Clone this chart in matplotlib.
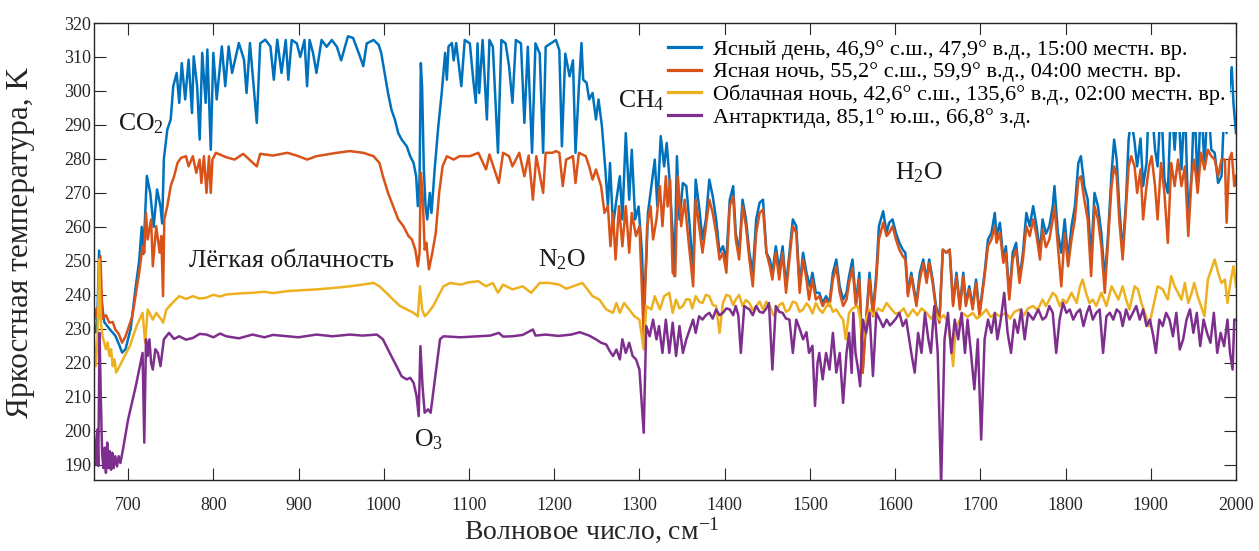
import matplotlib
matplotlib.use('Agg')
import matplotlib.pyplot as plt

plt.rcParams['font.family'] = ['Liberation Serif', 'DejaVu Serif']
plt.rcParams['mathtext.fontset'] = 'custom'
plt.rcParams['mathtext.rm'] = 'Liberation Serif'
plt.rcParams['mathtext.it'] = 'Liberation Serif:italic'

# (wavenumber cm-1, brightness temperature K)
clear_day = [
    (658, 231), (662, 229), (664, 234), (666, 253), (668, 240), (672, 232), (678, 230), (685, 228),
    (690, 225), (693, 223), (697, 224), (703, 230), (709, 242.5), (713, 250), (716, 260), (718, 252),
    (722, 275), (726, 270), (730, 260), (734, 271), (738, 266), (740, 261), (742, 280), (746, 288.6),
    (750, 291.6), (753, 301.4), (757, 305.3), (760, 296.5), (763, 308.2), (767, 297.5), (771, 309.2),
    (775, 293.5), (777, 310.2), (781, 301.4), (784, 285.7), (787, 311.2), (791, 296.5), (793, 312.2),
    (797, 282.7), (800, 311.2), (804, 297.5), (810, 313.1), (814, 301.4), (818, 313.1), (822, 305.3),
    (830, 314.1), (836, 309.2), (839, 299.4), (843, 314.1), (851, 290.6), (855, 314), (861, 315.1),
    (867, 313.1), (871, 303.3), (875, 315.1), (880, 305.3), (885, 315), (888, 303.3), (892, 315),
    (898, 314), (902, 310), (907, 315), (910, 301.4), (913, 315), (917, 311.2), (921, 305.3),
    (927, 315), (933, 313), (939, 315), (945, 313), (950, 309), (958, 316.1), (964, 315.6),
    (972, 310.2), (976, 307.3), (980, 314), (988, 315), (994, 313.6), (997, 311.2), (1001, 305.3),
    (1005, 299.4), (1009, 294.5), (1013, 291.6), (1017, 287.6), (1021, 285.7), (1027, 283.7),
    (1031, 280.8), (1035, 278.8), (1038, 274.9), (1040, 266.1), (1042, 274), (1043.5, 308.2),
    (1045, 301), (1047, 276.9), (1049, 266.1), (1051, 262.2), (1054, 270), (1056, 264.1),
    (1060, 277.8), (1064, 289.6), (1068, 299.4), (1072, 311.2), (1074, 303.3), (1076, 313.1),
    (1080, 314.1), (1082, 309), (1085, 314.1), (1091, 301.4), (1095, 315), (1101, 314),
    (1105, 303.3), (1108, 296.5), (1110, 314), (1112, 299.4), (1116, 315), (1121, 291.6),
    (1124, 315), (1128, 313), (1134, 281.8), (1138, 315), (1143, 314), (1147, 307.3), (1151, 296.5),
    (1155, 315), (1161, 314), (1165, 290.6), (1169, 313), (1174, 281.8), (1178, 314), (1183, 311),
    (1187, 281.8), (1190, 313), (1196, 314), (1202, 315), (1206, 312), (1209, 283.7), (1213, 311),
    (1218, 304.3), (1222, 309), (1225, 281.8), (1229, 301.4), (1232, 314.1), (1234, 303.3),
    (1238, 302.4), (1241, 297.5), (1245, 299.4), (1249, 291.6), (1252, 297.5), (1256, 289.6),
    (1260, 276.9), (1263, 266.1), (1265.5, 278.8), (1269, 260.2), (1273, 268), (1277, 274.9),
    (1280, 262.2), (1284, 287.6), (1288, 268), (1291, 282.7), (1295, 262.2), (1299, 266),
    (1303, 252.4), (1305, 236), (1308, 250), (1310, 264.1), (1314, 272), (1318, 279.8), (1321, 266),
    (1325, 286.7), (1329, 277.8), (1332, 284.7), (1335, 274.9), (1339, 258.2), (1341, 245.5),
    (1344, 280.8), (1347, 262.2), (1351, 272.9), (1355, 272), (1359, 260.2), (1363, 246.5),
    (1366, 273.9), (1370, 266), (1374, 256.3), (1378, 262.2), (1382, 273.9), (1386, 269),
    (1390, 262.2), (1394, 252.4), (1398, 254.3), (1402, 250.4), (1406, 268), (1410, 272),
    (1413, 258.2), (1417, 252.4), (1421, 268), (1425, 262.2), (1429, 252.4), (1433, 246.5),
    (1437, 262.2), (1441, 267.1), (1445, 268), (1449, 252.4), (1453, 250.4), (1456, 246.5),
    (1460, 254.3), (1464, 247.5), (1468, 254.3), (1472, 242.5), (1480, 262.2), (1484, 260.2),
    (1488, 242.5), (1492, 252.4), (1496, 246.5), (1500, 242.5), (1503, 246.5), (1507, 240.6),
    (1511, 240.6), (1515, 237.6), (1519, 239.6), (1523, 237.6), (1527, 246.5), (1531, 250.4),
    (1535, 242.5), (1539, 238.6), (1543, 240.6), (1546, 245.5), (1550, 250.4), (1554, 237.6),
    (1558, 246.5), (1562, 218), (1566, 232.7), (1570, 246.5), (1574, 234.7), (1578, 246.5),
    (1581, 260.2), (1586, 264.6), (1590, 258.2), (1593, 261.2), (1597, 262.2), (1601, 258.2),
    (1605, 255.3), (1609, 253.3), (1612, 252.4), (1615, 240.6), (1619, 246.5), (1625, 237.6),
    (1629, 246.5), (1633, 250.4), (1637, 244.5), (1640, 250.4), (1644, 244.5), (1648, 236.7),
    (1652, 232.7), (1656, 253.3), (1660, 252.4), (1664, 253.3), (1668, 237.6), (1672, 246.5),
    (1676, 236.7), (1680, 246.5), (1683, 237.6), (1687, 242.5), (1691, 236.7), (1695, 244.5),
    (1699, 234.7), (1705, 246.5), (1709, 256.3), (1713, 258.2), (1717, 264.1), (1719, 257.3),
    (1723, 261.2), (1727, 250.4), (1730, 254.3), (1734, 239.6), (1738, 252.4), (1742, 255.3),
    (1746, 244.5), (1750, 252.4), (1754, 264.1), (1758, 260.2), (1762, 266.1), (1766, 260.2),
    (1770, 252.4), (1773, 262.2), (1777, 258), (1781, 260.2), (1785, 266.1), (1787, 272),
    (1791, 258.2), (1795, 252.4), (1799, 262.2), (1803, 250.4), (1807, 260.2), (1811, 266.1),
    (1815, 278.8), (1818, 280.8), (1822, 272), (1826, 268), (1830, 250.4), (1834, 270),
    (1838, 266.1), (1842, 258.2), (1846, 244.5), (1850, 258.2), (1854, 275.9), (1857, 285.7),
    (1860, 279.8), (1863, 266.1), (1867, 252.4), (1871, 268), (1874, 285.7), (1877, 292),
    (1881, 285), (1884, 277.8), (1888, 286), (1891, 272), (1895, 278.8), (1898, 298), (1901, 296),
    (1905, 282.7), (1908, 277.8), (1912, 298), (1916, 273.9), (1920, 270), (1924, 298),
    (1928, 282.7), (1932, 298), (1936, 276.9), (1940, 298), (1944, 262.2), (1948, 275.9),
    (1951, 298), (1955, 272), (1959, 298), (1963, 277.8), (1967, 298), (1971, 282.7),
    (1975, 281.8), (1979, 272.9), (1983, 274.9), (1987, 300), (1989, 287.6), (1992, 300),
    (1995, 307), (1997, 296.5), (2000, 287.6),
]

clear_night = [
    (658, 234.7), (661, 233), (663, 236), (665, 233), (667.5, 251.4), (670, 233), (674, 234),
    (678, 231.8), (682, 232), (685, 229.8), (689, 228.5), (693, 225.9), (697, 227.8), (705, 233.7),
    (713, 246.5), (717, 254.3), (719, 252.4),
    (721, 264.1), (723, 256.3), (727, 262.2), (729, 248.4), (733, 260.2), (737, 252.4), (739, 257.3),
    (741, 239.6), (742.5, 262.2), (746, 266.1), (750, 272), (754, 274.9), (758, 278.8), (762, 280.3),
    (768, 280.8), (771, 277.8), (776, 280.8), (780, 275.9), (784, 279.8), (786, 272.9), (789, 280.8),
    (792, 270), (795, 280.8), (797, 270), (799, 279.8), (803, 281.8), (815, 280.5), (825, 279.8),
    (835, 281.5), (851, 277.8), (855, 281.5), (870, 281), (887, 281.8), (900, 280.8), (910, 279.8),
    (921, 280.8), (945, 281.8), (960, 282.3), (976, 281.8), (988, 280.8), (995, 278.8), (999, 274.9),
    (1005, 270), (1011, 266.1), (1017, 262.2), (1023, 260.2), (1029, 257.3), (1033, 256.3),
    (1037, 253.3), (1040, 248.4), (1042, 252.4), (1043.5, 275.9), (1045.5, 270), (1048, 253.3),
    (1050, 255.3), (1053, 247.5), (1057, 252.4), (1061, 258.2), (1065, 270), (1069, 277.8),
    (1074, 280.8), (1082, 279.8), (1089, 280.8), (1101, 280.8), (1111, 281.8), (1120, 276.9),
    (1124, 281.3), (1135, 272.9), (1140, 281.8), (1147, 280.8), (1151, 277.8), (1159, 281.8),
    (1165, 274.9), (1170, 281), (1175, 268), (1179, 280.8), (1187, 270), (1190, 281.8), (1198, 281.8),
    (1202, 282.3), (1206, 281.8), (1210, 272), (1214, 279.8), (1222, 280.8), (1225, 272.9),
    (1229, 281.8), (1237, 280.8), (1241, 277.8), (1245, 273.9), (1249, 276.9), (1255, 272),
    (1259, 264.1), (1263, 266.1), (1266, 254.3), (1269, 264.1), (1272, 250.4), (1276, 266.1),
    (1280, 254.3), (1284, 266.1), (1288, 252.4), (1291, 264.1), (1296, 257.3), (1300, 260.2),
    (1305, 228), (1309, 260.2), (1313, 266.1), (1316, 256.3), (1320, 262.2), (1324, 272),
    (1327, 260.2), (1331, 274.9), (1333, 266), (1336, 273.9), (1339, 246.5), (1342, 245.5),
    (1345, 274.9), (1349, 260.2), (1353, 268), (1357, 257.3), (1363, 242.5), (1366, 268),
    (1370, 260.2), (1374, 252.4), (1378, 260.2), (1382, 268), (1386, 264.1), (1390, 258.2),
    (1394, 250.4), (1398, 252.4), (1402, 246.5), (1406, 266.1), (1410, 269), (1413, 256.3),
    (1417, 250.4), (1421, 266.1), (1425, 260.2), (1429, 250.4), (1433, 242.5), (1437, 258.2),
    (1441, 264.1), (1445, 265.1), (1449, 252.4), (1453, 248.4), (1456, 244.5), (1460, 252.4),
    (1464, 244.5), (1468, 252.4), (1472, 240.6), (1480, 260.2), (1484, 258.2), (1488, 240.6),
    (1492, 250.4), (1496, 244.5), (1499, 238.6), (1503, 244.5), (1507, 238.6), (1511, 239.6),
    (1515, 236.7), (1519, 238.6), (1523, 236.7), (1527, 244.5), (1531, 248.4), (1535, 240.6),
    (1539, 236.7), (1543, 238.6), (1546, 243.5), (1550, 248), (1554, 236.7), (1558, 244.5),
    (1562, 217), (1566, 232.7), (1570, 244.5), (1574, 233.7), (1578, 244.5), (1581, 256.3),
    (1586, 261.2), (1590, 257.3), (1593, 258.2), (1597, 260.2), (1601, 256.3), (1605, 253.3),
    (1609, 251.4), (1612, 250.4), (1615, 239.6), (1619, 245.5), (1625, 236.7), (1629, 244.5),
    (1633, 249.4), (1637, 243.5), (1640, 249.4), (1644, 243.5), (1648, 235.7), (1652, 231.8),
    (1656, 253.3), (1660, 252.4), (1664, 253.3), (1668, 236.7), (1672, 245.5), (1676, 235.7),
    (1680, 245.5), (1683, 236.7), (1687, 241.6), (1691, 235.7), (1695, 243.5), (1699, 233.7),
    (1705, 245.5), (1709, 254.3), (1713, 256.3), (1717, 260.2), (1719, 255.3), (1723, 258.2),
    (1727, 249.4), (1730, 252.4), (1734, 238.6), (1738, 250.4), (1742, 253.3), (1746, 243.5),
    (1750, 250.4), (1754, 260.2), (1758, 257.3), (1762, 262.2), (1766, 257.3), (1770, 250.4),
    (1773, 259.2), (1777, 254), (1781, 256.3), (1785, 262.2), (1787, 266.1), (1791, 254.3),
    (1795, 242.5), (1799, 258.2), (1803, 248.4), (1807, 256.3), (1811, 262.2), (1815, 273.9),
    (1818, 274.9), (1822, 268), (1826, 262.2), (1830, 245.5), (1834, 266.1), (1838, 262.2),
    (1842, 254.3), (1846, 240.6), (1850, 256.3), (1854, 272), (1857, 277.8), (1860, 274.9),
    (1863, 262.2), (1867, 250.4), (1871, 266.1), (1874, 277.8), (1877, 280.8), (1881, 277.8),
    (1884, 270), (1888, 276.9), (1891, 262.2), (1895, 272), (1898, 277.8), (1901, 280.8),
    (1905, 272), (1908, 262.2), (1912, 278.8), (1916, 270), (1920, 255.3), (1924, 278.8),
    (1928, 272), (1932, 279.8), (1936, 272), (1940, 277.8), (1944, 257.3), (1948, 274.9),
    (1951, 279.8), (1955, 270), (1959, 281.8), (1963, 276.9), (1967, 282.7), (1971, 280.8),
    (1975, 279.8), (1979, 274.9), (1983, 279.8), (1987, 279.8), (1989, 261.2), (1992, 279.8),
    (1995, 281.8), (1998, 272), (2000, 275),
]

cloudy_night = [
    (658, 223), (660, 227), (662, 219), (664, 226), (666, 250.4), (668, 232), (670, 227.8), (674, 224),
    (676, 226), (678, 222), (680, 224), (682, 219), (684, 221), (686, 217.1), (690, 219), (694, 221),
    (698, 223), (702, 224.9),
    (710, 230.8), (717, 234.7), (720, 225.9), (723, 235.7), (729, 232.7), (733, 234.7), (739, 232.7),
    (741, 231.8), (745, 235.7), (752, 237.6), (760, 239.6), (768, 238.8), (776, 239.6), (784, 238.9),
    (791, 239.1), (800, 240), (808, 239.5), (815, 240.1), (830, 240.4), (846, 240.6), (860, 240.9),
    (870, 240.5), (887, 241.1), (900, 241.3), (921, 241.6), (940, 242), (960, 242.5), (975, 243),
    (988, 243.5), (995, 242.5), (1003, 240.6), (1011, 238.6), (1019, 236.7), (1027, 235.7),
    (1035, 234.7), (1040, 233.7), (1042.5, 242.5), (1045, 235.7), (1048, 233.7), (1052, 234.7),
    (1058, 236.7), (1064, 239.6), (1070, 242.5), (1078, 243.5), (1090, 243), (1100, 243.7),
    (1111, 244), (1120, 242.5), (1128, 243.5), (1134, 240.6), (1140, 243), (1151, 241.6),
    (1163, 242.5), (1173, 240.6), (1183, 243.5), (1194, 243.5), (1206, 243), (1214, 241.8),
    (1222, 242.5), (1233, 243.5), (1239, 241.6), (1245, 239.6), (1253, 238.6), (1261, 235.7),
    (1269, 234.7), (1273, 237.6), (1277, 234.7), (1282, 237.6), (1288, 235.7), (1294, 233.7),
    (1300, 232.7), (1305, 223.9), (1308, 236.7), (1314, 235.7), (1318, 239.6), (1324, 235.7),
    (1329, 239.6), (1335, 240.6), (1339, 234.7), (1343, 238.6), (1347, 236), (1351, 236.7),
    (1355, 238.7), (1359, 238.6), (1362, 236), (1366, 239.6), (1370, 238), (1374, 237.6),
    (1378, 240), (1382, 239.6), (1386, 237), (1390, 236.7), (1394, 228.8), (1398, 237.6),
    (1402, 240), (1406, 239.6), (1410, 237), (1413, 238.6), (1417, 240), (1421, 236.7),
    (1425, 238.5), (1429, 237.6), (1433, 235.5), (1437, 236.7), (1441, 238), (1445, 235.7),
    (1449, 238), (1453, 236.7), (1457, 234), (1460, 234.7), (1464, 237), (1468, 237.6),
    (1472, 235), (1476, 235.7), (1480, 238), (1484, 237.6), (1488, 235), (1492, 235.7),
    (1496, 237.5), (1499, 236.7), (1503, 234.5), (1507, 237.6), (1511, 235.7), (1515, 234.7),
    (1519, 236.5), (1523, 237.6), (1527, 235), (1531, 235.7), (1535, 234), (1539, 232.7),
    (1542, 226.9), (1546, 234.7), (1550, 236), (1556, 236.7), (1559, 233), (1562, 226.9),
    (1566, 233), (1570, 235.7), (1575, 234), (1580, 236), (1585, 235.2), (1590, 237.6), (1595, 236),
    (1600, 234.5), (1605, 234.7), (1610, 236), (1615, 233.5), (1621, 235.7), (1626, 234),
    (1631, 236), (1637, 234.7), (1642, 233), (1647, 234.5), (1652, 232.7), (1657, 234), (1662, 232),
    (1666, 224), (1668, 219), (1671, 230), (1676, 232.7), (1680, 234.5), (1685, 233.5),
    (1691, 234.7), (1696, 233), (1701, 234), (1707, 235.7), (1712, 233.5), (1718, 234.5),
    (1723, 233.7), (1730, 234.7), (1735, 233), (1740, 235), (1746, 235.7), (1751, 234), (1756, 236),
    (1762, 236.7), (1767, 235.5), (1773, 238.6), (1777, 236.7), (1781, 238.6), (1785, 240.6),
    (1789, 239.6), (1793, 236.7), (1797, 238.6), (1801, 237.6), (1807, 240.6), (1813, 237.6),
    (1817, 242.5), (1820, 244.5), (1824, 240.6), (1828, 237.6), (1832, 238.6), (1836, 236.7),
    (1842, 240.6), (1848, 236.7), (1854, 242.5), (1858, 240.6), (1862, 238.6), (1867, 242.5),
    (1871, 238.6), (1875, 235.7), (1881, 242.5), (1885, 241.6), (1889, 237.6), (1893, 234.7),
    (1898, 230.8), (1903, 236.7), (1908, 242.5), (1914, 241.6), (1920, 238.6), (1924, 245.5),
    (1928, 242.5), (1932, 240.6), (1936, 238.6), (1940, 243.5), (1944, 237.6), (1948, 240.6),
    (1951, 243.5), (1955, 239.6), (1959, 236.7), (1963, 233.7), (1967, 244.5), (1971, 247.5),
    (1975, 250.4), (1979, 246.5), (1983, 243.5), (1987, 244.5), (1990, 237.6), (1994, 244.5),
    (1997, 248.4), (2000, 242.5),
]

antarctica = [
    (658, 193.5), (660, 199), (662, 190), (664, 200.4), (665, 189.6), (666.5, 228.8), (668, 210),
    (669.5, 193.5), (671, 189), (672.5, 195), (674, 187.6), (675.5, 196.5), (677, 189), (678.5, 194),
    (680, 188.5), (681.5, 193.5), (683, 189), (685, 192.5), (687, 189.5), (689, 192.5), (691, 190.5),
    (694, 194.5), (700, 203.3), (709, 213.1), (717, 222.9), (719, 196.5), (721, 226.9), (723, 222),
    (725, 226.9), (727, 220), (729, 218), (732, 224), (735, 222.9), (738, 219), (740, 222.9),
    (742, 226.9), (748, 228.8), (754, 227), (760, 227.8), (768, 226.8), (776, 227.3), (784, 228.5),
    (792, 228.3), (800, 227.5), (808, 228.6), (815, 227.8), (830, 227.2), (846, 228.3), (860, 227.5),
    (870, 228.2), (887, 227.8), (900, 227.5), (921, 228.3), (940, 227.8), (960, 228.3), (975, 228),
    (992, 228.3), (999, 226.9), (1007, 222.9), (1015, 219), (1021, 216), (1027, 215.1),
    (1031, 215.6), (1035, 214.1), (1038.5, 210.2), (1041, 204.3), (1043, 224.9), (1045.5, 213.1),
    (1048, 205.3), (1052, 206.3), (1055, 205.3), (1058, 211.2), (1062, 219), (1066, 226.9),
    (1070, 227.8), (1090, 227.5), (1111, 227.8), (1125, 228), (1135, 228.8), (1140, 227.7),
    (1151, 227.8), (1163, 228.2), (1175, 229.8), (1178, 228), (1190, 228.3), (1205, 227.9),
    (1220, 228.3), (1230, 229), (1241, 228), (1249, 226.9), (1255, 225.9), (1261, 225.4),
    (1265, 223.5), (1269, 222), (1273, 223.9), (1277, 221), (1280, 226.9), (1284, 222.9),
    (1288, 225.9), (1292, 222), (1296, 221), (1300, 218), (1305, 199.4), (1308, 230.8),
    (1312, 227.8), (1316, 232.7), (1320, 226.9), (1323, 230.8), (1327, 222.9), (1331, 232.7),
    (1335, 222.9), (1339, 231.8), (1343, 222), (1347, 230.8), (1351, 222.9), (1355, 226.9),
    (1359, 229.8), (1363, 232.7), (1366, 228.8), (1370, 233.7), (1374, 232.7), (1378, 234),
    (1382, 234.7), (1386, 233), (1390, 235.7), (1394, 234), (1398, 234.7), (1402, 236),
    (1406, 235.7), (1410, 234), (1413, 236.7), (1416, 234), (1419, 222.9), (1423, 236.7),
    (1429, 235.7), (1433, 234), (1437, 236.7), (1441, 235), (1445, 234.7), (1449, 236),
    (1452, 237.6), (1456, 218), (1460, 236.7), (1464, 235), (1468, 234.7), (1472, 233),
    (1476, 232.7), (1480, 222.9), (1484, 232.7), (1488, 230), (1492, 226.9), (1496, 229),
    (1499, 222.9), (1503, 225), (1506, 207.3), (1509, 220), (1511, 222.9), (1515, 215.1),
    (1519, 222.9), (1523, 218), (1527, 228.8), (1531, 217.1), (1535, 222.9), (1539, 208.2),
    (1543, 222.9), (1546, 228.8), (1549, 217), (1551, 234.7), (1553.5, 222.9), (1556, 219),
    (1559, 213.1), (1562, 232.7), (1566, 228.8), (1570, 234.7), (1574, 216.1), (1578, 234.7),
    (1582, 232.7), (1586, 230.5), (1590, 232.7), (1594, 231), (1597, 231.8), (1601, 233),
    (1605, 234.7), (1609, 230.8), (1613, 232.7), (1619, 222.9), (1623, 217.1), (1627, 228.8),
    (1631, 222.9), (1635, 234.7), (1639, 226.9), (1642, 222.9), (1646, 236.7), (1650, 222.9),
    (1654, 184), (1658, 226.9), (1662, 234.7), (1666, 222.9), (1670, 232.7), (1674, 226.9),
    (1678, 234.7), (1682, 222.9), (1685, 232.7), (1689, 222.9), (1693, 212.2), (1697, 226.9),
    (1701, 197.4), (1705, 226.9), (1709, 232.7), (1713, 228.8), (1717, 234.7), (1720, 226.9),
    (1724, 232.7), (1728, 240.6), (1732, 228.8), (1736, 222.9), (1740, 232.7), (1744, 228.8),
    (1748, 235.7), (1752, 226.9), (1756, 234.7), (1762, 232.7), (1768, 235.7), (1773, 232.7),
    (1777, 233.5), (1781, 236.7), (1785, 234.7), (1789, 222.9), (1793, 232.7), (1797, 237.6),
    (1801, 234.7), (1805, 235.7), (1809, 232.7), (1813, 234.7), (1817, 235.7), (1821, 230.8),
    (1825, 234.7), (1828, 236.7), (1832, 232.7), (1836, 234.7), (1840, 235.7), (1844, 222.9),
    (1848, 233.7), (1852, 234.7), (1856, 232.7), (1860, 235.7), (1864, 234.7), (1867, 230.8),
    (1871, 235.7), (1875, 232.7), (1879, 234.7), (1883, 236.7), (1887, 232.7), (1891, 235.7),
    (1895, 230.8), (1899, 232.7), (1903, 227.8), (1906, 222.9), (1910, 232.7), (1914, 230.8),
    (1918, 234.7), (1922, 232.7), (1926, 227.8), (1930, 234.7), (1934, 223.9), (1938, 226.9),
    (1942, 232.7), (1946, 235.7), (1950, 228.8), (1954, 234.7), (1958, 224.9), (1962, 232.7),
    (1966, 228.8), (1970, 225.9), (1974, 234.7), (1978, 222.9), (1982, 228.8), (1986, 224.9),
    (1990, 232.7), (1993, 222.9), (1996, 218), (1998, 232.7), (2000, 232.7),
]

series_labels = [
    'Ясный день, 46,9° с.ш., 47,9° в.д., 15:00 местн. вр.',
    'Ясная ночь, 55,2° с.ш., 59,9° в.д., 04:00 местн. вр.',
    'Облачная ночь, 42,6° с.ш., 135,6° в.д., 02:00 местн. вр.',
    'Антарктида, 85,1° ю.ш., 66,8° з.д.',
]
series_colors = ['#0072BD', '#D95319', '#EDB120', '#7E2F8E']

# gas band labels: text, wavenumber of left edge, temperature of baseline
band_labels = [
    (r'CO$_2$', 688, 288.5),
    ('Лёгкая облачность', 772, 248.3),
    (r'O$_3$', 1035, 195.3),
    (r'N$_2$O', 1181, 248.3),
    (r'CH$_4$', 1275, 295.1),
    (r'H$_2$O', 1600, 273.9),
]

fig = plt.figure(figsize=(12.59, 5.51), dpi=100)
ax = fig.add_axes([94 / 1259, 1 - 480 / 551, 1142 / 1259, 457 / 551])

for data, lab, col in zip([clear_day, clear_night, cloudy_night, antarctica], series_labels, series_colors):
    wn, temp = zip(*data)
    ax.plot(wn, temp, color=col, lw=1.8, label=lab)

for txt, x, y in band_labels:
    ax.text(x, y, txt, fontsize=18.5, ha='left', va='baseline', color='#1a1a1a')

ax.set_xlim(660, 2000)
ax.set_ylim(185.5, 320)
ax.set_xticks(range(700, 2001, 100))
ax.set_yticks(range(190, 321, 10))
ax.tick_params(direction='in', length=8.5, width=0.8, top=True, right=True,
               labelsize=13, colors='#262626')
ax.tick_params(axis='x', pad=12)
ax.tick_params(axis='y', pad=2)
for sp in ax.spines.values():
    sp.set_color('#262626')
    sp.set_linewidth(1.0)

ax.set_xlabel('Волновое число, см$^{-1}$', fontsize=20, color='#262626')
ax.xaxis.set_label_coords(0.436, -0.078)
ax.set_ylabel('Яркостная температура, K', fontsize=22.5, color='#262626')
ax.yaxis.set_label_coords(-0.052, 0.52)

leg = ax.legend(loc='upper left', bbox_to_anchor=(0.499, 0.9745), fontsize=16,
                frameon=True, fancybox=False, framealpha=1, edgecolor='none',
                borderpad=0.2, borderaxespad=0, handlelength=1.45, handletextpad=0.55,
                labelspacing=0.1)
for line in leg.get_lines():
    line.set_linewidth(2.3)

fig.savefig('out.png', dpi=100)
